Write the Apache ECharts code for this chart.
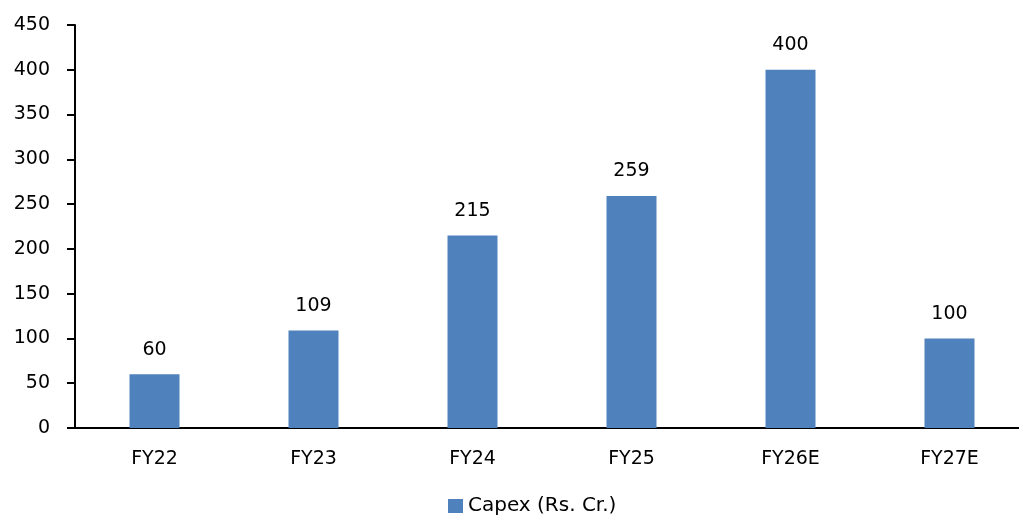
<!DOCTYPE html>
<html>
<head>
<meta charset="utf-8">
<script src="https://cdn.jsdelivr.net/npm/echarts@6/dist/echarts.min.js"></script>
<style>
  html, body { margin: 0; padding: 0; background: #fff; overflow: hidden; }
  #main { width: 1030px; height: 518px; }
</style>
</head>
<body>
<div id="main"></div>
<script>
const years = ['FY22', 'FY23', 'FY24', 'FY25', 'FY26E', 'FY27E'];
const capex = [60, 109, 215, 259, 400, 100];
const seriesName = 'Capex (Rs. Cr.)';

const font = 'Verdana, "DejaVu Sans", sans-serif';

// chart is a bit wider than the window: the x axis runs off the right edge
var chart = echarts.init(document.getElementById('main'));
chart.setOption({
    animation: false,
    grid: { left: 75, right: 1, top: 25, bottom: 90, containLabel: false },
    legend: {
        top: 491,
        left: 443,
        itemWidth: 15,
        itemHeight: 14,
        itemGap: 8,
        icon: 'rect',
        textStyle: { fontFamily: font, fontSize: 20, color: '#000' },
        data: [seriesName]
    },
    xAxis: {
        type: 'category',
        data: years,
        axisLine: { lineStyle: { color: '#000', width: 2 } },
        axisTick: { show: false },
        axisLabel: { color: '#000', fontFamily: font, fontSize: 19, margin: 22 }
    },
    yAxis: {
        type: 'value',
        min: 0,
        max: 450,
        interval: 50,
        splitLine: { show: false },
        axisLine: { show: true, lineStyle: { color: '#000', width: 2 } },
        axisTick: { show: true, length: 8, lineStyle: { color: '#000', width: 2 } },
        axisLabel: { color: '#000', fontFamily: font, fontSize: 19, margin: 25 }
    },
    series: [{
        name: seriesName,
        type: 'bar',
        data: capex,
        barWidth: 50,
        itemStyle: { color: '#4F81BD' },
        label: {
            show: true,
            position: 'top',
            distance: 15,
            color: '#000',
            fontFamily: font,
            fontSize: 19
        }
    }]
});
</script>
</body>
</html>
